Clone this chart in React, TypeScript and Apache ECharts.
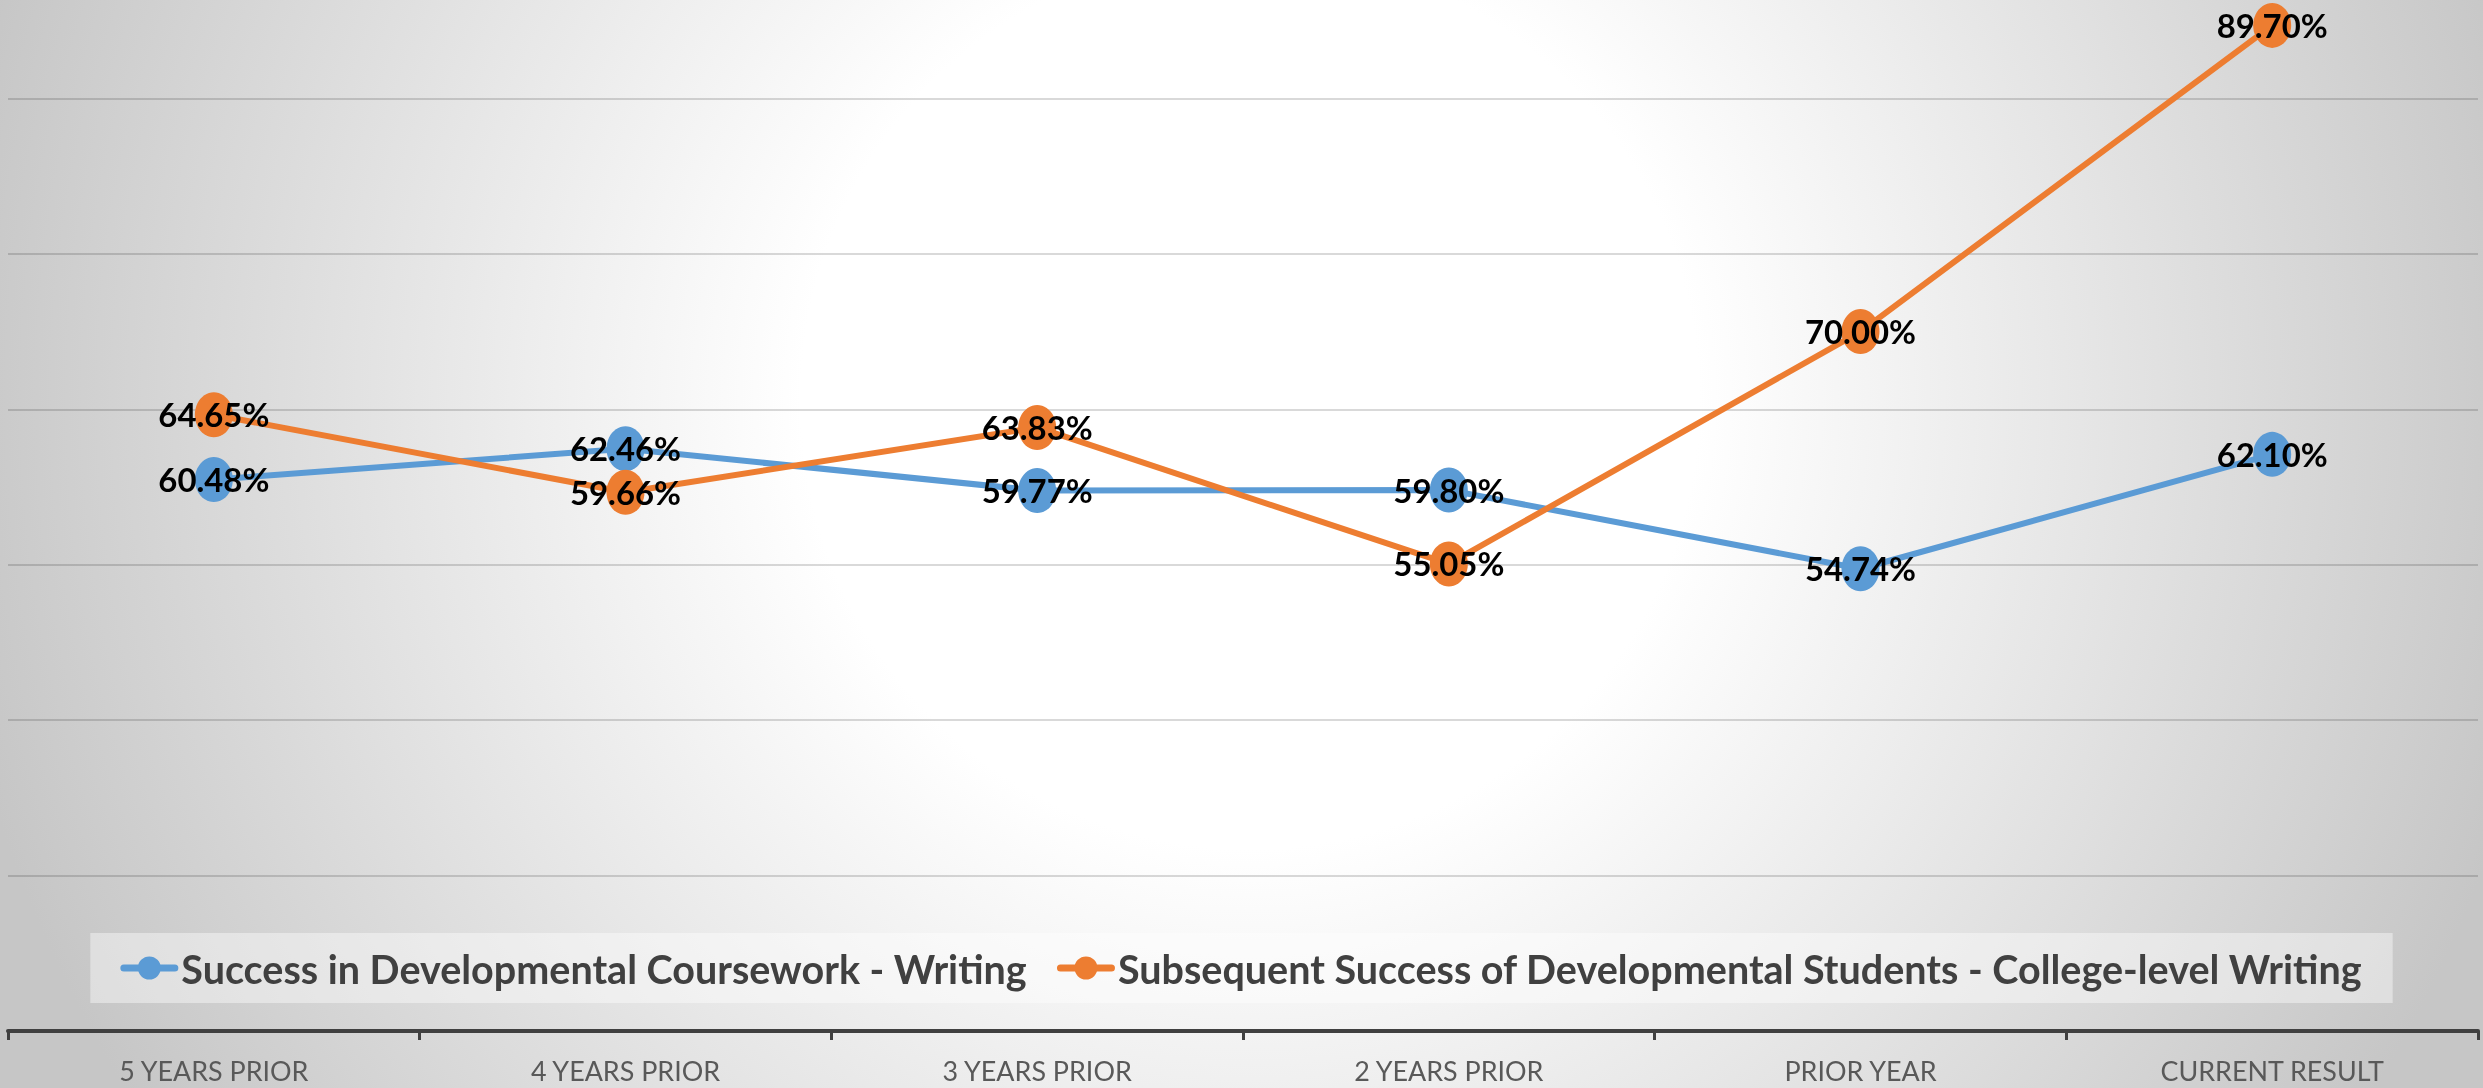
import React, { useEffect, useRef } from "react";
import * as echarts from "echarts";

const categories = ["5 YEARS PRIOR", "4 YEARS PRIOR", "3 YEARS PRIOR", "2 YEARS PRIOR", "PRIOR YEAR", "CURRENT RESULT"];
const seriesNames = [
  "Success in Developmental Coursework - Writing",
  "Subsequent Success of Developmental Students - College-level Writing",
];
const courseworkValues = [60.48, 62.46, 59.77, 59.8, 54.74, 62.1];
const collegeLevelValues = [64.65, 59.66, 63.83, 55.05, 70.0, 89.7];
const seriesColors = ["#5B9BD5", "#ED7D31"];
const yMin = 25;
const yMax = 95;
const yStep = 5;

const FONT = "Lato";

// legend marker: rounded line with a circle in the middle (58 x 23 box)
const LEGEND_ICON =
  "path://M3.5 8 H54.5 A3.5 3.5 0 0 1 54.5 15 H3.5 A3.5 3.5 0 0 1 3.5 8 Z " +
  "M17.5 11.5 A11.5 11.5 0 1 1 40.5 11.5 A11.5 11.5 0 1 1 17.5 11.5 Z";

function fitFontSize(text: string, weight: string, target: number, fallback: number): number {
  try {
    const ctx = document.createElement("canvas").getContext("2d");
    if (!ctx) return fallback;
    ctx.font = `${weight} 100px ${FONT}`;
    const w = ctx.measureText(text).width;
    if (!w) return fallback;
    return Math.round(((100 * target) / w) * 10) / 10;
  } catch (e) {
    return fallback;
  }
}

export default function App() {
  const ref = useRef<HTMLDivElement>(null);

  useEffect(() => {
    if (!ref.current) return;
    const chart = echarts.init(ref.current, undefined, { renderer: "svg" });

    const legendFont = fitFontSize(seriesNames[0], "bold", 846, 38);
    const labelFont = fitFontSize("64.65%", "bold", 111, 32);
    const axisFont = fitFontSize("5 YEARS PRIOR", "normal", 190, 27);

    const makeSeries = (name: string, data: number[], color: string) => ({
      name,
      type: "line",
      data,
      symbol: "circle",
      symbolSize: [38, 45],
      lineStyle: { width: 6, color },
      itemStyle: { color },
      label: {
        show: true,
        position: "inside",
        formatter: (p: any) => `${Number(p.value).toFixed(2)}%`,
        color: "#000000",
        fontFamily: FONT,
        fontWeight: "bold",
        fontSize: labelFont,
      },
      emphasis: { disabled: true },
    });

    chart.setOption({
      animation: false,
      graphic: [
        {
          type: "rect",
          z: -100,
          silent: true,
          shape: { x: 0, y: 0, width: 2483, height: 1088 },
          style: {
            fill: new echarts.graphic.RadialGradient(
              1250,
              400,
              1320,
              [
                { offset: 0, color: "#ffffff" },
                { offset: 0.34, color: "#ffffff" },
                { offset: 1, color: "#c6c6c6" },
              ],
              true
            ),
          },
        },
      ],
      grid: {
        left: 8,
        right: 5,
        top: -57,
        bottom: 57,
        containLabel: false,
        outerBoundsMode: "none",
      },
      legend: {
        data: seriesNames,
        left: "center",
        top: 933,
        icon: LEGEND_ICON,
        itemWidth: 58,
        itemHeight: 23,
        itemGap: 30,
        padding: [15, 30],
        backgroundColor: "rgba(255,255,255,0.42)",
        itemStyle: { borderWidth: 0 },
        textStyle: {
          fontFamily: FONT,
          fontWeight: "bold",
          fontSize: legendFont,
          color: "#404040",
          padding: [0, 0, 0, -2],
        },
      },
      xAxis: {
        type: "category",
        data: categories,
        boundaryGap: true,
        axisLine: { lineStyle: { color: "#404040", width: 4 } },
        axisTick: { show: true, length: 9, lineStyle: { color: "#404040", width: 3 } },
        axisLabel: { color: "#595959", fontFamily: FONT, fontSize: axisFont, margin: 26 },
        splitLine: { show: false },
      },
      yAxis: {
        type: "value",
        min: yMin,
        max: yMax,
        interval: yStep,
        axisLine: { show: false },
        axisTick: { show: false },
        axisLabel: { show: false },
        splitLine: {
          show: true,
          lineStyle: { color: ["rgba(0,0,0,0.15)", "rgba(0,0,0,0)"], width: 2 },
        },
      },
      series: [
        makeSeries(seriesNames[0], courseworkValues, seriesColors[0]),
        makeSeries(seriesNames[1], collegeLevelValues, seriesColors[1]),
      ],
    });

    return () => chart.dispose();
  }, []);

  return (
    <div
      ref={ref}
      style={{ position: "fixed", left: 0, top: 0, width: 2483, height: 1088 }}
    />
  );
}
